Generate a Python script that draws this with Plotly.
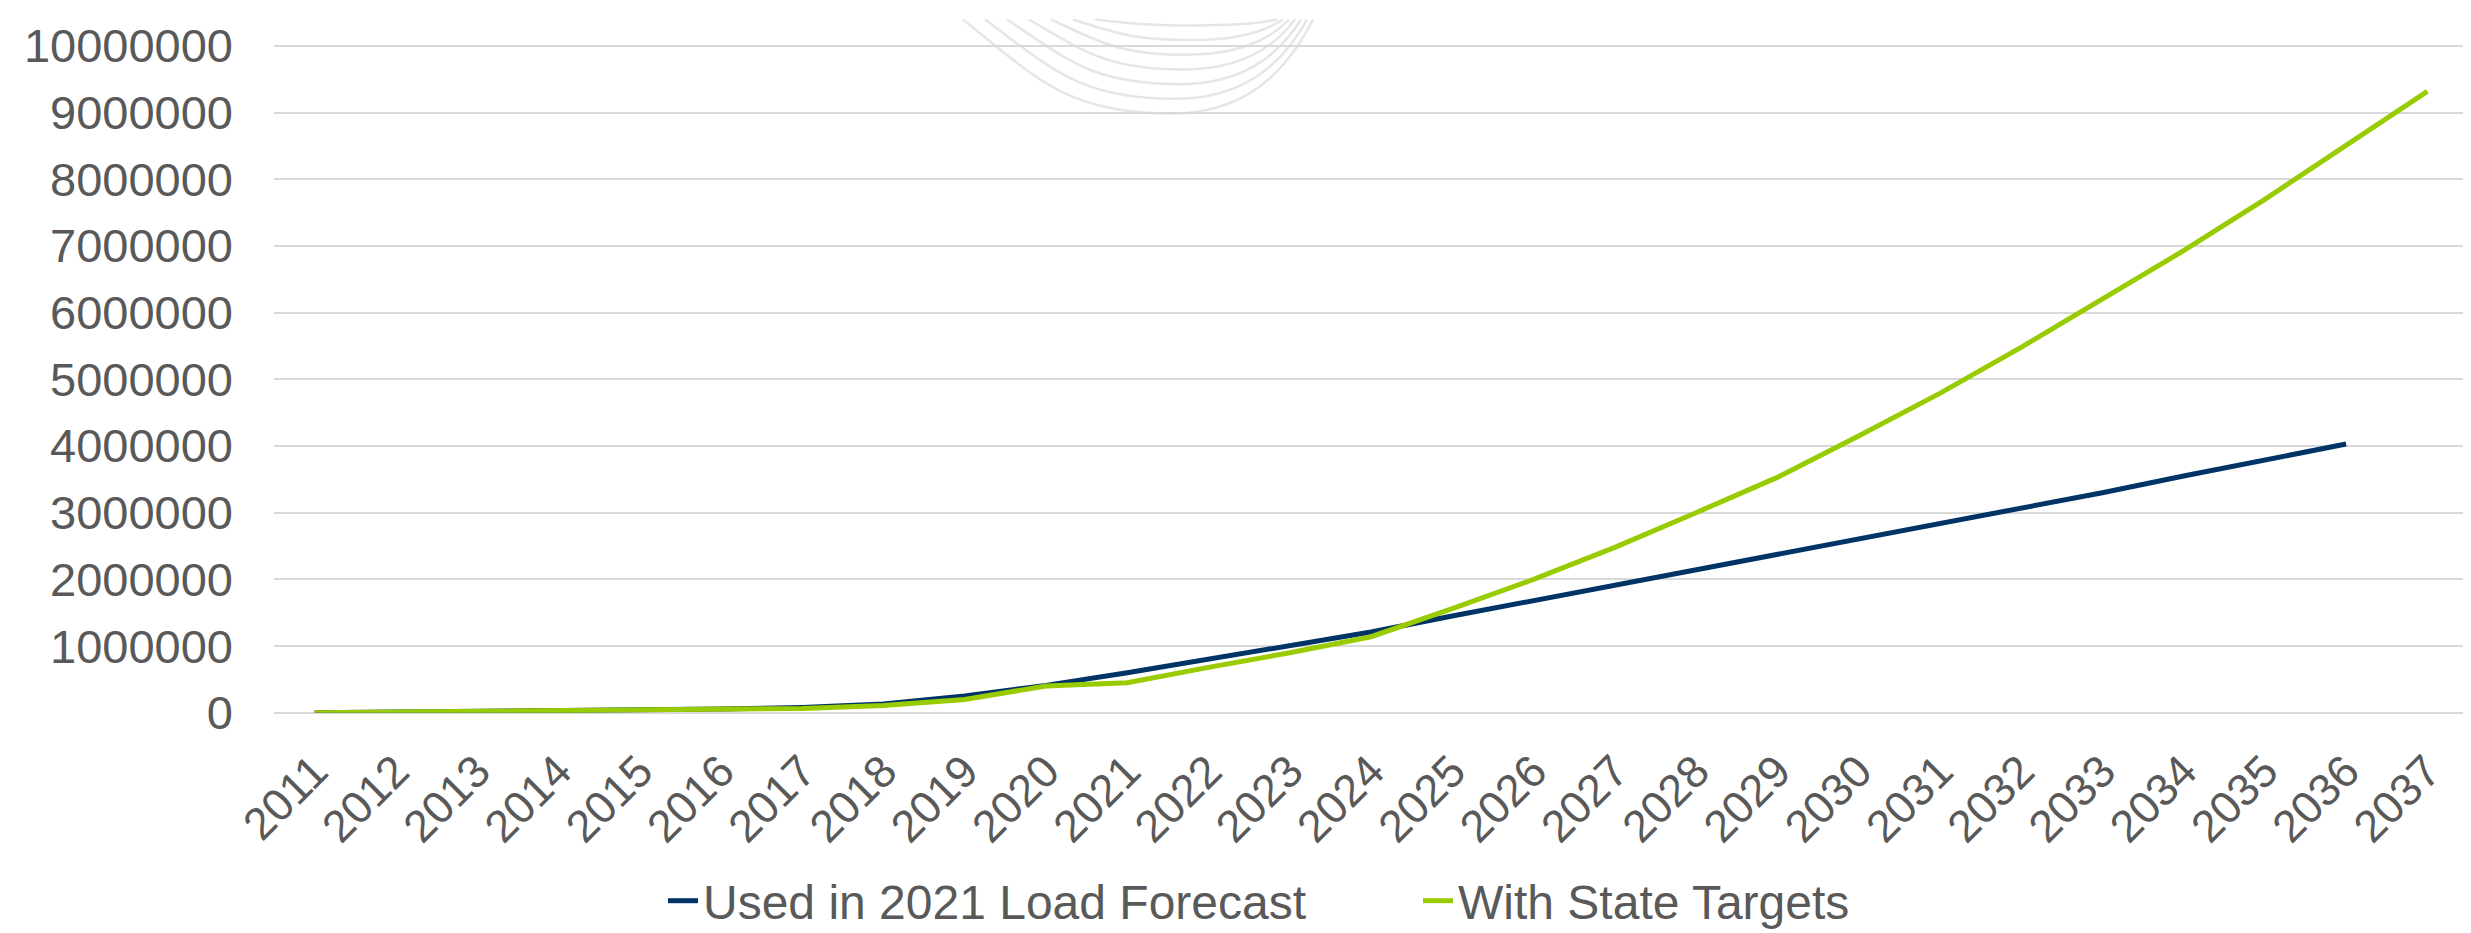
import plotly.graph_objects as go

years = [str(y) for y in range(2011, 2038)]

load_forecast_2021 = [0, 10000, 20000, 30000, 40000, 55000, 80000, 130000, 250000,
                      410000, 600000, 800000, 1010000, 1210000, 1450000, 1680000,
                      1910000, 2140000, 2370000, 2600000, 2830000, 3070000,
                      3300000, 3550000, 3790000, 4030000]

state_targets = [0, 8000, 16000, 25000, 35000, 45000, 65000, 110000, 200000,
                 400000, 450000, 680000, 900000, 1140000, 1560000, 2000000,
                 2480000, 3000000, 3530000, 4150000, 4790000, 5480000, 6200000,
                 6930000, 7700000, 8520000, 9320000]

series_names = ["Used in 2021 Load Forecast", "With State Targets"]
y_ticks = list(range(0, 10000001, 1000000))

W, H = 2471, 933
L, R, T, B = 266, 11, 25, 225
PW, PH = W - L - R, H - T - B

fig = go.Figure()
fig.add_trace(go.Scatter(x=years[:len(load_forecast_2021)], y=load_forecast_2021,
                         mode="lines", name=series_names[0],
                         line=dict(color="#003366", width=5)))
fig.add_trace(go.Scatter(x=years, y=state_targets, mode="lines", name=series_names[1],
                         line=dict(color="#99CC00", width=5)))

# faint watermark arcs (decoration), pixel -> paper
def px(x):
    return (x - L) / PW

def py(y):
    return 1 - (y - T) / PH

shapes = []
for i in range(7):
    yb = 96 - 15 * i
    xl = 955 + 22 * i
    xb = 1163 + 4 * i
    xr = 1305 - 6 * i
    path = (f"M {px(xl):.5f},{py(0):.5f} "
            f"C {px(xl + 0.35*(xb-xl)):.5f},{py(0.62*yb):.5f} {px(xb - 0.5*(xb-xl)):.5f},{py(yb):.5f} {px(xb):.5f},{py(yb):.5f} "
            f"C {px(xb + 0.5*(xr-xb)):.5f},{py(yb):.5f} {px(xr - 0.2*(xr-xb)):.5f},{py(0.6*yb):.5f} {px(xr):.5f},{py(0):.5f}")
    shapes.append(dict(type="path", path=path, xref="paper", yref="paper",
                       line=dict(color="#e6e6e6", width=2.5), layer="below"))

fig.update_layout(
    width=W, height=H,
    margin=dict(l=L, r=R, t=T, b=B, pad=0),
    paper_bgcolor="white", plot_bgcolor="white",
    font=dict(family="Liberation Sans, Arial, sans-serif", color="#595959", size=44),
    showlegend=True,
    legend=dict(orientation="h", xref="container", yref="container",
                x=655 / W, xanchor="left", y=1 - 893 / H, yanchor="middle",
                font=dict(size=48, color="#595959"),
                entrywidth=710, entrywidthmode="pixels"),
    shapes=shapes,
)
fig.update_xaxes(type="category", range=[-0.5, len(years) - 0.5], tickangle=-45,
                 showgrid=False, showline=False, ticks="", ticklabelstandoff=22,
                 tickfont=dict(size=45, color="#595959"))
fig.update_yaxes(range=[0, 10030000], tickvals=y_ticks, tickformat="d",
                 showgrid=True, gridcolor="#d9d9d9", gridwidth=2,
                 zeroline=True, zerolinecolor="#d9d9d9", zerolinewidth=2,
                 showline=False, ticks="", ticklabelstandoff=40,
                 tickfont=dict(size=47, color="#595959"))

fig.write_html("out.html")
